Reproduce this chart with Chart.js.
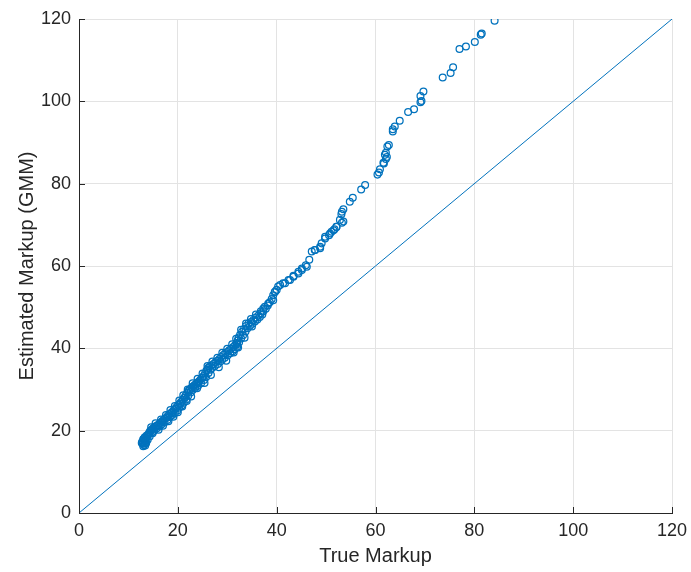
<!DOCTYPE html>
<html>
<head>
<meta charset="utf-8">
<script src="https://cdn.jsdelivr.net/npm/chart.js@4/dist/chart.umd.min.js"></script>
<style>
html,body{margin:0;padding:0;background:#fff;}
#wrap{width:691px;height:572px;position:relative;}
</style>
</head>
<body>
<div id="wrap"><canvas id="c" width="691" height="572"></canvas></div>
<script>
// True markup (x) and estimated markup (GMM, y)
const trueMarkup = [
 12.9,13.0,13.1,13.2,13.0,13.3,13.4,12.8,13.1,13.5,13.6,13.8,14.0,14.2,14.1,14.4,14.7,14.5,15.0,15.3,15.1,15.6,15.9,16.2,16.0,16.5,16.8,17.1,16.9,17.4,17.7,18.0,17.8,18.3,18.6,18.9,18.7,19.2,19.5,19.8,19.6,20.1,20.4,20.7,20.5,21.0,21.3,21.6,21.4,21.9,22.2,22.5,22.3,22.8,23.1,23.4,23.6,23.7,24.0,24.3,24.2,24.6,24.9,25.2,25.1,25.5,25.8,26.1,26.0,26.4,26.8,27.2,27.6,28.0,28.4,28.8,29.2,29.6,30.0,30.4,30.8,31.2,31.6,31.9,32.1,32.0,32.3,32.6,33.0,33.4,33.8,34.3,34.8,35.3,35.8,36.3,36.8,37.3,37.6,37.8,38.2,38.6,39.0,39.3,39.6,39.7,40.0,40.7,41.7,42.7,43.4,44.4,45.1,45.9,46.6,47.1,47.7,48.8,49.8,50.6,51.1,51.7,52.1,52.8,53.5,53.1,53.2,53.5,54.8,55.4,57.1,57.9,60.4,60.7,60.9,61.6,61.7,62.1,61.9,62.1,62.3,62.4,62.7,63.5,63.5,63.9,64.9,66.6,67.8,69.1,69.3,69.1,69.7,73.6,75.2,75.7,77.0,78.3,80.1,81.3,81.5,84.1,
 12.7,13.4,13.6,13.9,14.3,14.8,15.2,15.7,16.3,16.7,17.3,17.9,18.4,18.9,19.4,19.9,20.3,20.8,21.2,21.7,22.1,22.6,23.0,23.5,24.1,24.7,25.3,25.7,26.2,26.6,27.0,27.5,28.1,28.6,29.0,29.5,30.1,30.6,31.1,31.5,32.0,32.4,32.8,33.2,33.7,34.1,34.6,35.1,35.6,36.1,36.6,37.1,
 13.3,14.6,15.5,16.6,17.6,18.5,19.4,20.3,21.1,22.0,23.0,24.0,25.0,26.0,27.0,28.0,29.0,30.0,31.0,31.8,32.8,33.8,34.8,35.8,36.8,
 37.3,38.3,39.3,40.3,41.3,42.4,43.4,44.4,45.1,46.1,47.8,48.8,49.1,49.8,50.8,51.5,52.1,53.2,
 13.0,13.7,14.9,16.1,17.0,18.1,19.1,20.0,20.9,21.8,22.7,23.9,25.4,26.7,28.3,29.8,31.3,32.2,33.5,35.0
];
const estimatedMarkup = [
 16.8,17.2,16.5,17.6,17.9,16.9,17.4,17.3,18.0,17.9,18.2,18.6,19.0,19.5,19.1,19.9,20.3,19.9,20.6,20.9,20.4,21.1,21.3,21.6,21.2,21.9,22.3,22.6,22.1,22.9,23.2,23.6,23.2,24.0,24.3,24.6,24.2,25.0,25.4,25.8,25.3,26.2,26.6,27.0,26.5,27.5,28.0,28.6,28.0,29.2,29.7,30.1,29.8,30.5,30.8,31.1,30.7,31.4,31.7,32.0,31.6,32.4,32.8,33.3,32.9,33.9,34.6,35.2,34.8,35.5,35.8,36.2,36.6,37.0,37.4,37.9,38.4,38.8,39.1,39.5,39.9,40.3,40.8,41.3,41.9,41.0,42.6,43.3,44.0,44.7,45.4,46.0,46.4,46.9,47.5,48.0,48.5,49.0,50.1,49.6,50.4,51.2,52.0,52.9,53.6,53.8,54.2,55.4,55.8,56.6,57.6,58.6,59.4,60.2,61.5,63.5,63.9,64.7,66.7,67.5,68.3,68.9,69.5,71.2,70.8,72.6,73.2,73.8,75.6,76.6,78.6,79.7,82.2,82.7,83.5,85.1,84.9,86.0,87.0,87.5,86.5,89.0,89.4,92.7,93.2,93.9,95.3,97.4,98.1,99.8,100.1,101.3,102.4,105.8,106.9,108.3,112.7,113.3,114.4,116.2,116.5,119.6,
 17.0,16.4,17.0,17.8,18.6,19.6,20.0,20.5,21.0,21.5,22.0,22.6,23.3,23.8,24.3,24.9,25.6,26.1,26.8,27.6,28.5,29.3,29.9,30.3,30.9,31.5,32.3,33.0,34.0,34.8,35.3,35.7,36.2,36.8,37.3,37.7,38.3,38.8,39.3,39.8,40.4,41.5,42.4,43.2,44.1,44.9,45.5,46.0,46.5,47.0,47.6,48.2,
 18.4,20.8,21.8,22.7,23.8,25.0,26.0,27.3,28.6,30.0,31.5,32.6,33.9,35.7,36.8,37.7,38.9,39.9,41.0,42.3,44.5,46.0,47.1,48.2,49.0,
 49.7,50.9,51.7,55.0,55.8,56.6,57.4,58.2,59.0,59.8,63.9,64.3,65.5,67.1,67.9,68.7,69.5,70.5,
 16.2,18.8,19.4,20.2,21.2,22.3,23.4,24.5,25.9,27.2,28.3,30.3,31.6,33.5,35.4,37.0,39.0,40.2,42.6,45.3
];
const tickValues = [0, 20, 40, 60, 80, 100, 120];
const refLine = [0, 120];

const blue = '#0072BD';
const axisColor = '#262626';
const gridColor = '#e3e3e3';

const scatterData = trueMarkup.map((x, i) => ({x: x, y: estimatedMarkup[i]}));
const lineData = refLine.map(v => ({x: v, y: v}));

const innerTicks = {
  id: 'innerTicks',
  afterDatasetsDraw(chart) {
    const {ctx, chartArea, scales} = chart;
    ctx.save();
    ctx.strokeStyle = axisColor;
    ctx.lineWidth = 1;
    ctx.beginPath();
    tickValues.forEach(v => {
      const px = Math.round(scales.x.getPixelForValue(v)) + 0.5;
      ctx.moveTo(px, chartArea.bottom);
      ctx.lineTo(px, chartArea.bottom - 6);
      const py = Math.round(scales.y.getPixelForValue(v)) + 0.5;
      ctx.moveTo(chartArea.left, py);
      ctx.lineTo(chartArea.left + 6, py);
    });
    ctx.stroke();
    ctx.restore();
  }
};

new Chart(document.getElementById('c'), {
  type: 'scatter',
  data: {
    datasets: [
      {
        data: scatterData,
        showLine: false,
        pointStyle: 'circle',
        pointRadius: 3.4,
        pointBorderWidth: 1.25,
        borderColor: blue,
        backgroundColor: 'rgba(0,0,0,0)',
        pointBackgroundColor: 'rgba(0,0,0,0)',
        pointBorderColor: blue
      },
      {
        type: 'line',
        data: lineData,
        borderColor: blue,
        borderWidth: 1,
        pointRadius: 0,
        fill: false
      }
    ]
  },
  options: {
    responsive: false,
    animation: false,
    events: [],
    layout: {padding: {top: 19, right: 19, left: 0, bottom: 0}},
    plugins: {legend: {display: false}, tooltip: {enabled: false}},
    scales: {
      x: {
        type: 'linear',
        min: 0, max: 120,
        afterBuildTicks(s) { s.ticks = tickValues.map(v => ({value: v})); },
        afterFit(s) { s.height = 59; s.paddingRight = 0; s.paddingLeft = 0; },
        grid: {color: gridColor, drawTicks: false, lineWidth: 1},
        border: {display: true, color: axisColor, width: 1},
        ticks: {color: axisColor, padding: 7, font: {family: 'Liberation Sans', size: 18}, maxRotation: 0},
        title: {display: true, text: 'True Markup', color: axisColor,
                font: {family: 'Liberation Sans', size: 20}, padding: {top: 0, bottom: 4}}
      },
      y: {
        type: 'linear',
        min: 0, max: 120,
        afterBuildTicks(s) { s.ticks = tickValues.map(v => ({value: v})); },
        afterFit(s) { s.width = 79; s.paddingTop = 0; s.paddingBottom = 0; },
        grid: {color: gridColor, drawTicks: false, lineWidth: 1},
        border: {display: true, color: axisColor, width: 1},
        ticks: {color: axisColor, padding: 8, font: {family: 'Liberation Sans', size: 18}},
        title: {display: true, text: 'Estimated Markup (GMM)', color: axisColor,
                font: {family: 'Liberation Sans', size: 20}, padding: {top: 15, bottom: 0}}
      }
    }
  },
  plugins: [innerTicks]
});
</script>
</body>
</html>
